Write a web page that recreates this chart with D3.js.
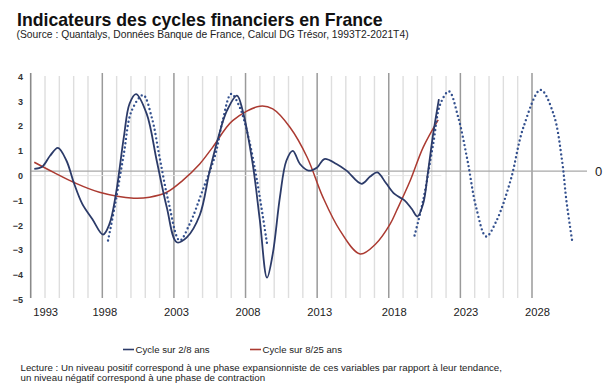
<!DOCTYPE html>
<html>
<head>
<meta charset="utf-8">
<script src="https://cdn.jsdelivr.net/npm/d3@7"></script>
<style>
  body{margin:0;background:#fff;}
  svg{display:block;font-family:"Liberation Sans",Arial,sans-serif;}
</style>
</head>
<body>
<svg class="chart"></svg>
<script>
// cycle court (2/8 ans), [annee, valeur]
const cycleCourt = [
  [1993.25,0.27],[1993.8,0.36],[1994.35,0.8],[1994.9,1.12],[1995.5,0.6],[1996.0,-0.27],
  [1996.6,-1.14],[1997.3,-1.75],[1998.05,-2.38],[1998.5,-1.95],[1998.95,-0.74],[1999.5,1.54],
  [1999.9,2.9],[2000.35,3.29],[2001.1,2.49],[2001.8,0.6],[2002.5,-1.28],[2003.2,-2.69],
  [2003.9,-2.49],[2004.8,-1.6],[2005.5,0.2],[2006.1,1.55],[2006.7,2.62],[2007.4,3.23],
  [2007.8,2.62],[2008.5,0.47],[2009.0,-1.81],[2009.5,-4.12],[2009.9,-3.16],[2010.4,-0.87],
  [2010.85,0.6],[2011.3,1.0],[2011.8,0.47],[2012.4,0.2],[2013.0,0.33],[2013.5,0.67],
  [2014.35,0.47],[2015.05,0.2],[2016.1,-0.33],[2016.7,-0.04],[2017.2,0.13],[2017.8,-0.3],
  [2018.4,-0.74],[2019.1,-1.0],[2019.6,-1.34],[2020.0,-1.65],[2020.4,-1.14],[2020.75,0.2],
  [2021.1,1.68],[2021.5,3.09]
];

// cycle long (8/25 ans)
const cycleLong = [
  [1993.25,0.54],[1994.6,0.13],[1996.0,-0.27],[1997.8,-0.67],[2000.2,-0.91],[2001.3,-0.87],
  [2002.5,-0.67],[2003.6,-0.2],[2004.8,0.47],[2005.7,1.14],[2007.1,2.22],[2009.0,2.8],
  [2009.9,2.69],[2011.1,1.95],[2012.3,0.74],[2013.4,-0.87],[2014.6,-2.22],[2016.0,-3.16],
  [2017.1,-2.75],[2018.1,-1.95],[2018.55,-1.41],[2019.5,-0.2],[2020.4,1.14],[2021.45,2.25]
];

// projections en pointilles
const projection1 = [
  [1998.4,-2.62],[1998.9,-1.14],[1999.5,0.87],[2000.05,2.62],[2000.85,3.25],[2001.45,2.35],
  [2002.0,0.74],[2002.6,-1.0],[2003.4,-2.62],[2004.1,-1.95],[2005.0,-0.6],[2005.9,0.87],
  [2006.4,2.22],[2007.0,3.3],[2007.6,2.75],[2008.2,1.55],[2008.8,-0.2],[2009.5,-2.75]
];
const projection2 = [
  [2019.8,-2.42],[2020.4,-1.0],[2021.1,1.28],[2021.6,2.89],[2022.2,3.4],[2022.85,2.35],
  [2023.5,0.6],[2024.1,-1.28],[2024.8,-2.46],[2025.5,-1.85],[2026.5,-0.2],[2027.4,1.95],
  [2028.6,3.46],[2029.5,2.49],[2030.1,0.6],[2030.4,-1.0],[2030.8,-2.62]
];

const yTicks = [4,3,2,1,0,-1,-2,-3,-4,-5];
const xTicks = [1993,1998,2003,2008,2013,2018,2023,2028];

const navy = '#2c3b69', dotBlue = '#33508e', red = '#ab3a31';

let svg = d3.select('.chart')
            .attr('width',616)
            .attr('height',390);

svg.append('rect').attr('width',616).attr('height',390).attr('fill','#fff');

let xScale = d3.scaleLinear().domain([1993,2028]).range([30.7,532]);
let yScale = d3.scaleLinear().domain([-5,4]).range([299.5,76.5]);

// quadrillage vertical, un trait par an
let years = d3.range(1994,2029);
svg.append('g')
   .selectAll('line')
   .data(years)
   .enter()
   .append('line')
   .attr('x1',d=>xScale(d))
   .attr('x2',d=>xScale(d))
   .attr('y1',d=>(d-1993)%5===0 ? 73 : 76)
   .attr('y2',298)
   .attr('stroke',d=>(d-1993)%5===0 ? '#9a9a9a' : '#dedede')
   .attr('stroke-width',d=>(d-1993)%5===0 ? 1.5 : 1.4);

// ligne du zero (graphe principal, tres pale)
svg.append('line')
   .attr('x1',30).attr('x2',xScale(2023) - 19)
   .attr('y1',yScale(0)).attr('y2',yScale(0))
   .attr('stroke','#e4e4e4').attr('stroke-width',1);

// ligne du zero du graphe superpose des projections
svg.append('line')
   .attr('x1',30).attr('x2',587)
   .attr('y1',yScale(0.18)).attr('y2',yScale(0.18))
   .attr('stroke','#a8a8a8').attr('stroke-width',1.2);

svg.append('text')
   .attr('x',595).attr('y',yScale(0.18) + 4.5)
   .style('font-size','13px')
   .attr('fill','#222')
   .text('0');

// axe vertical
svg.append('line')
   .attr('x1',30.7).attr('x2',30.7)
   .attr('y1',73).attr('y2',298)
   .attr('stroke','#8a8a8a').attr('stroke-width',1.6);

let yAxis = d3.axisLeft(yScale).tickValues(yTicks).tickSize(0).tickPadding(0);
let gy = svg.append('g')
            .attr('transform','translate(23,0)')
            .call(yAxis);
gy.select('.domain').remove();
gy.selectAll('text')
  .style('font-size','9px')
  .style('font-weight','bold')
  .attr('fill','#333');

let xAxis = d3.axisBottom(xScale).tickValues(xTicks).tickFormat(d3.format('d')).tickSize(0).tickPadding(0);
let gx = svg.append('g')
            .attr('transform','translate(0,308)')
            .call(xAxis);
gx.select('.domain').remove();
gx.selectAll('text')
  .attr('text-anchor',d=>d===1993 ? 'start' : 'middle')
  .attr('dx',d=>d>=2018 ? 5 : 2)
  .style('font-size','11.2px')
  .attr('fill','#222');

let line = d3.line()
             .x(d=>xScale(d[0]))
             .y(d=>yScale(d[1]))
             .curve(d3.curveCatmullRom.alpha(0.5));

svg.append('path')
   .datum(cycleLong)
   .attr('d',line)
   .attr('fill','none')
   .attr('stroke',red)
   .attr('stroke-width',1.5);

[projection1,projection2].forEach(p=>{
  svg.append('path')
     .datum(p)
     .attr('d',line)
     .attr('fill','none')
     .attr('stroke',dotBlue)
     .attr('stroke-width',2.4)
     .attr('stroke-linecap','round')
     .attr('stroke-dasharray','0 4.3');
});

svg.append('path')
   .datum(cycleCourt)
   .attr('d',line)
   .attr('fill','none')
   .attr('stroke',navy)
   .attr('stroke-width',1.8);

// titre
svg.append('text')
   .attr('x',17).attr('y',26)
   .style('font-size','17.7px')
   .style('font-weight','bold')
   .attr('fill','#111')
   .text('Indicateurs des cycles financiers en France');

svg.append('text')
   .attr('x',16.5).attr('y',38)
   .style('font-size','10.3px')
   .attr('fill','#222')
   .text('(Source : Quantalys, Données Banque de France, Calcul DG Trésor, 1993T2-2021T4)');

// legende
let legendItems = [
  {label:'Cycle sur 2/8 ans', color:navy, x:123},
  {label:'Cycle sur 8/25 ans', color:red, x:250}
];
let legend = svg.append('g').attr('id','legend');
legendItems.forEach(it=>{
  legend.append('line')
        .attr('x1',it.x).attr('x2',it.x + 11)
        .attr('y1',349.5).attr('y2',349.5)
        .attr('stroke',it.color).attr('stroke-width',1.6);
  legend.append('text')
        .attr('x',it.x + 12.5).attr('y',352.8)
        .style('font-size','9.6px')
        .attr('fill','#222')
        .text(it.label);
});

// note de lecture
svg.append('text')
   .attr('x',20.5).attr('y',370.5)
   .style('font-size','9.7px')
   .attr('fill','#222')
   .text('Lecture : Un niveau positif correspond à une phase expansionniste de ces variables par rapport à leur tendance,');
svg.append('text')
   .attr('x',20.5).attr('y',380.5)
   .style('font-size','9.7px')
   .attr('fill','#222')
   .text('un niveau négatif correspond à une phase de contraction');
</script>
</body>
</html>
